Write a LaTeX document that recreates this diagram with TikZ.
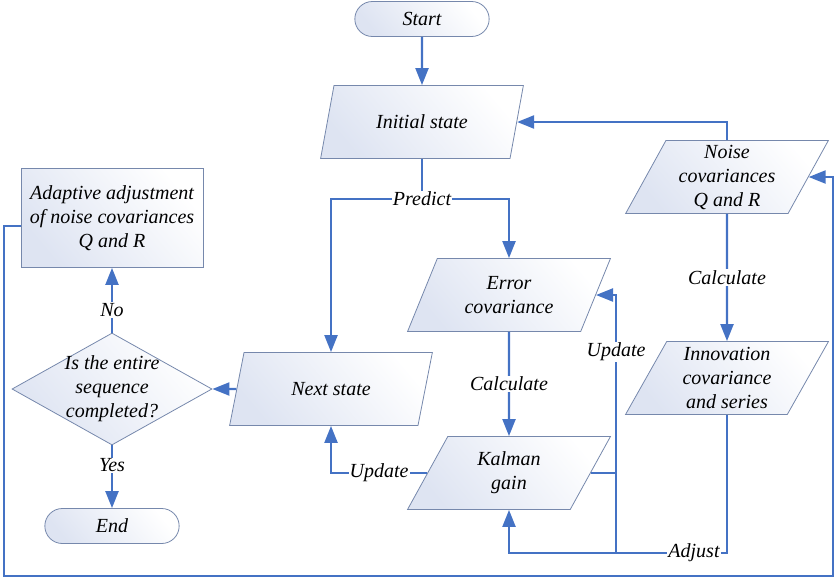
\documentclass[tikz,border=0pt]{standalone}
\usepackage{fontspec}
\setmainfont{Liberation Serif}
\usetikzlibrary{shapes.geometric,shapes.misc,arrows.meta}
\definecolor{flowblue}{RGB}{68,114,196}
\definecolor{edgeblue}{RGB}{118,136,172}
\definecolor{shadeblue}{RGB}{222,228,242}
\begin{document}
\begin{tikzpicture}[x=1pt,y=-1pt,
    font=\itshape\fontsize{20}{24}\selectfont,
    box/.style={draw=edgeblue,line width=0.8pt,top color=white,bottom color=shadeblue,shading angle=-50},
    para/.style={box,trapezium,trapezium left angle=63.7,trapezium right angle=116.3,
      trapezium stretches=true,minimum width=203pt,minimum height=73pt,inner sep=0pt,align=center},
    term/.style={box,rounded rectangle,minimum width=141pt,minimum height=35pt},
    flow/.style={draw=flowblue,line width=2.2pt,-{Triangle[length=17pt,width=13pt]}},
    link/.style={draw=flowblue,line width=2.2pt},
    tag/.style={fill=white,inner sep=1pt}]
    \useasboundingbox (0,0) rectangle (836,579);
    % Nodes
    \node[term] (start) at (422,19) {Start};
    \node[para] (init) at (422,122) {Initial state};
    \node[para] (noise) at (727,177) {Noise\\covariances\\Q and R};
    \node[para] (errcov) at (509,295) {Error\\covariance};
    \node[para] (innov) at (727,378) {Innovation\\covariance\\and series};
    \node[para] (kalman) at (509,473) {Kalman\\gain};
    \node[para] (next) at (331,389) {Next state};
    \node[box,diamond,minimum width=200pt,minimum height=112pt,inner sep=0pt,
      label={[align=center]center:Is the entire\\sequence\\completed?}] (decide) at (112,389) {};
    \node[box,rectangle,minimum width=182pt,minimum height=99pt,align=center] (adapt) at (112,218)
      {Adaptive adjustment\\of noise covariances\\Q and R};
    \node[term] (finish) at (112,526) {End};
    % Helper points
    \coordinate (fork) at (422,199);
    \coordinate (bend) at (616,553);
    \coordinate (ll) at (4,576);
    \coordinate (lr) at (833,576);
    % Connectors
    \draw[flow] (start) -- (init);
    \draw[link] (init) -- (fork);
    \draw[flow] (fork) -| (next.north);
    \draw[flow] (fork) -| (errcov.north);
    \node[tag] (predict) at (fork) {Predict};
    \draw[flow] (noise.north) |- (init.east);
    \draw[flow] (noise) -- node[tag] (calcnoise) {Calculate} (innov);
    \draw[flow] (errcov) -- node[tag] (calcgain) {Calculate} (kalman);
    \draw[flow] (kalman.west) -| node[tag,pos=0.25] (updnext) {Update} (next.south);
    \draw[link] (kalman.east) -- (kalman.east -| bend);
    \draw[flow] (bend) |- node[tag,pos=0.39] (upderr) {Update} (errcov.east);
    \draw[flow] (innov.south) |- (bend) -| (kalman.south);
    \node[tag] (adjust) at (694,553) {Adjust};
    \draw[flow] (next.west) -- (decide.east);
    \draw[flow] (decide.north) -- node[tag,pos=0.35] (no) {No} (adapt.south);
    \draw[flow] (decide.south) -- node[tag,pos=0.32] (yes) {Yes} (finish.north);
    \draw[flow] ([yshift=-8pt]adapt.west) -| (ll) -- (lr) |- (noise.east);
  \end{tikzpicture}
\end{document}
